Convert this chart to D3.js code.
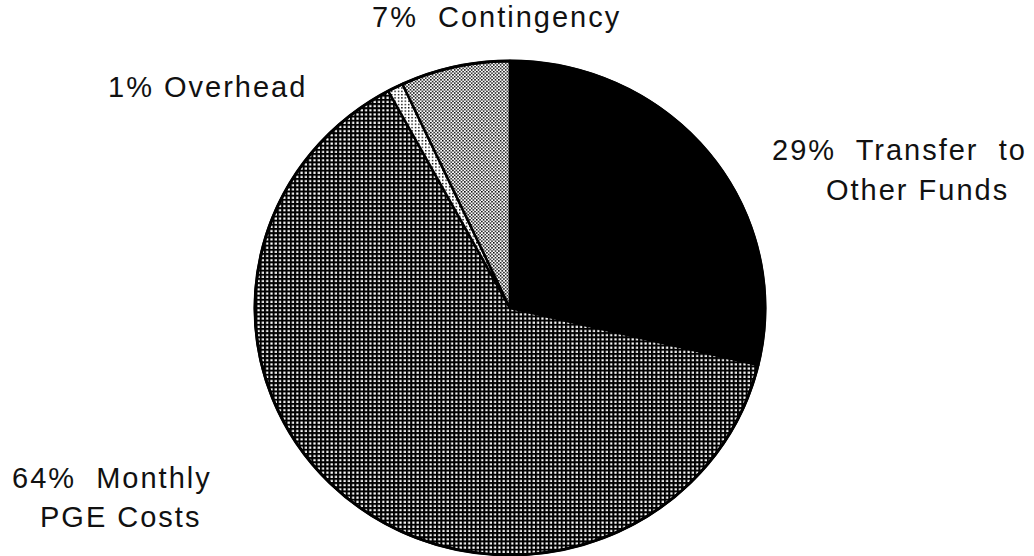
<!DOCTYPE html>
<html>
<head>
<meta charset="utf-8">
<script src="https://d3js.org/d3.v7.min.js"></script>
<style>
  body { margin: 0; background: #fff; }
  text { font-family: "Liberation Sans", Arial, sans-serif; fill: #111; }
</style>
</head>
<body>
<script>
// budget shares, clockwise from 12 o'clock
var names = ['Transfer to Other Funds', 'Monthly PGE Costs', 'Overhead', 'Contingency'];
var shares = [29, 64, 1, 7];
var fills = ['solid', 'dots', 'light', 'check'];

// label lines and where they sit
var labelLines = [
  ['29%  Transfer  to', 'Other Funds'],
  ['64%  Monthly', 'PGE Costs'],
  ['1% Overhead'],
  ['7%  Contingency']
];
var labelPos = [
  { x: [772, 826], y: [160, 200] },
  { x: [12, 40], y: [488, 527] },
  { x: [108], y: [97] },
  { x: [372], y: [27] }
];

var width = 1034;
var height = 556;
var cx = 510, cy = 308;
var rx = 255, ry = 247;

var svg = d3.select('body').append('svg')
  .attr('width', width)
  .attr('height', height);

var defs = svg.append('defs');

// white dots on black
var p1 = defs.append('pattern')
  .attr('id', 'dots')
  .attr('patternUnits', 'userSpaceOnUse')
  .attr('width', 4.3).attr('height', 4.3);
p1.append('rect').attr('width', 4.3).attr('height', 4.3).attr('fill', '#000');
p1.append('rect').attr('x', 1.2).attr('y', 1.2).attr('width', 2.2).attr('height', 2.2).attr('fill', '#fff');

// fine diagonal checker
var p2 = defs.append('pattern')
  .attr('id', 'check')
  .attr('patternUnits', 'userSpaceOnUse')
  .attr('width', 3.4).attr('height', 3.4);
p2.append('rect').attr('width', 3.4).attr('height', 3.4).attr('fill', '#fff');
p2.append('rect').attr('width', 1.5).attr('height', 1.5).attr('fill', '#000');
p2.append('rect').attr('x', 1.7).attr('y', 1.7).attr('width', 1.5).attr('height', 1.5).attr('fill', '#000');

var p3 = defs.append('pattern')
  .attr('id', 'light')
  .attr('patternUnits', 'userSpaceOnUse')
  .attr('width', 3.4).attr('height', 3.4);
p3.append('rect').attr('width', 3.4).attr('height', 3.4).attr('fill', '#fff');
p3.append('rect').attr('width', 1.4).attr('height', 1.4).attr('fill', '#000');

var fillOf = function (k) {
  return k === 'solid' ? '#000' : 'url(#' + k + ')';
};

var pie = d3.pie().sort(null).value(function (d) { return d; });
var arc = d3.arc().innerRadius(0).outerRadius(rx);

var g = svg.append('g')
  .attr('transform', 'translate(' + cx + ',' + cy + ') scale(1,' + (ry / rx) + ')');

g.selectAll('path').data(pie(shares))
  .enter()
  .append('path')
  .attr('d', arc)
  .attr('fill', function (d, i) { return fillOf(fills[i]); })
  .attr('stroke', '#000')
  .attr('stroke-width', 2.5)
  .attr('stroke-linejoin', 'round');

// outer rim
g.append('ellipse')
  .attr('rx', rx).attr('ry', rx)
  .attr('fill', 'none')
  .attr('stroke', '#000')
  .attr('stroke-width', 3);

var labels = svg.append('g');
labelLines.forEach(function (lines, i) {
  lines.forEach(function (s, j) {
    labels.append('text')
      .attr('x', labelPos[i].x[j])
      .attr('y', labelPos[i].y[j])
      .attr('font-size', 29)
      .attr('letter-spacing', 2)
      .style('white-space', 'pre')
      .text(s);
  });
});
</script>
</body>
</html>
